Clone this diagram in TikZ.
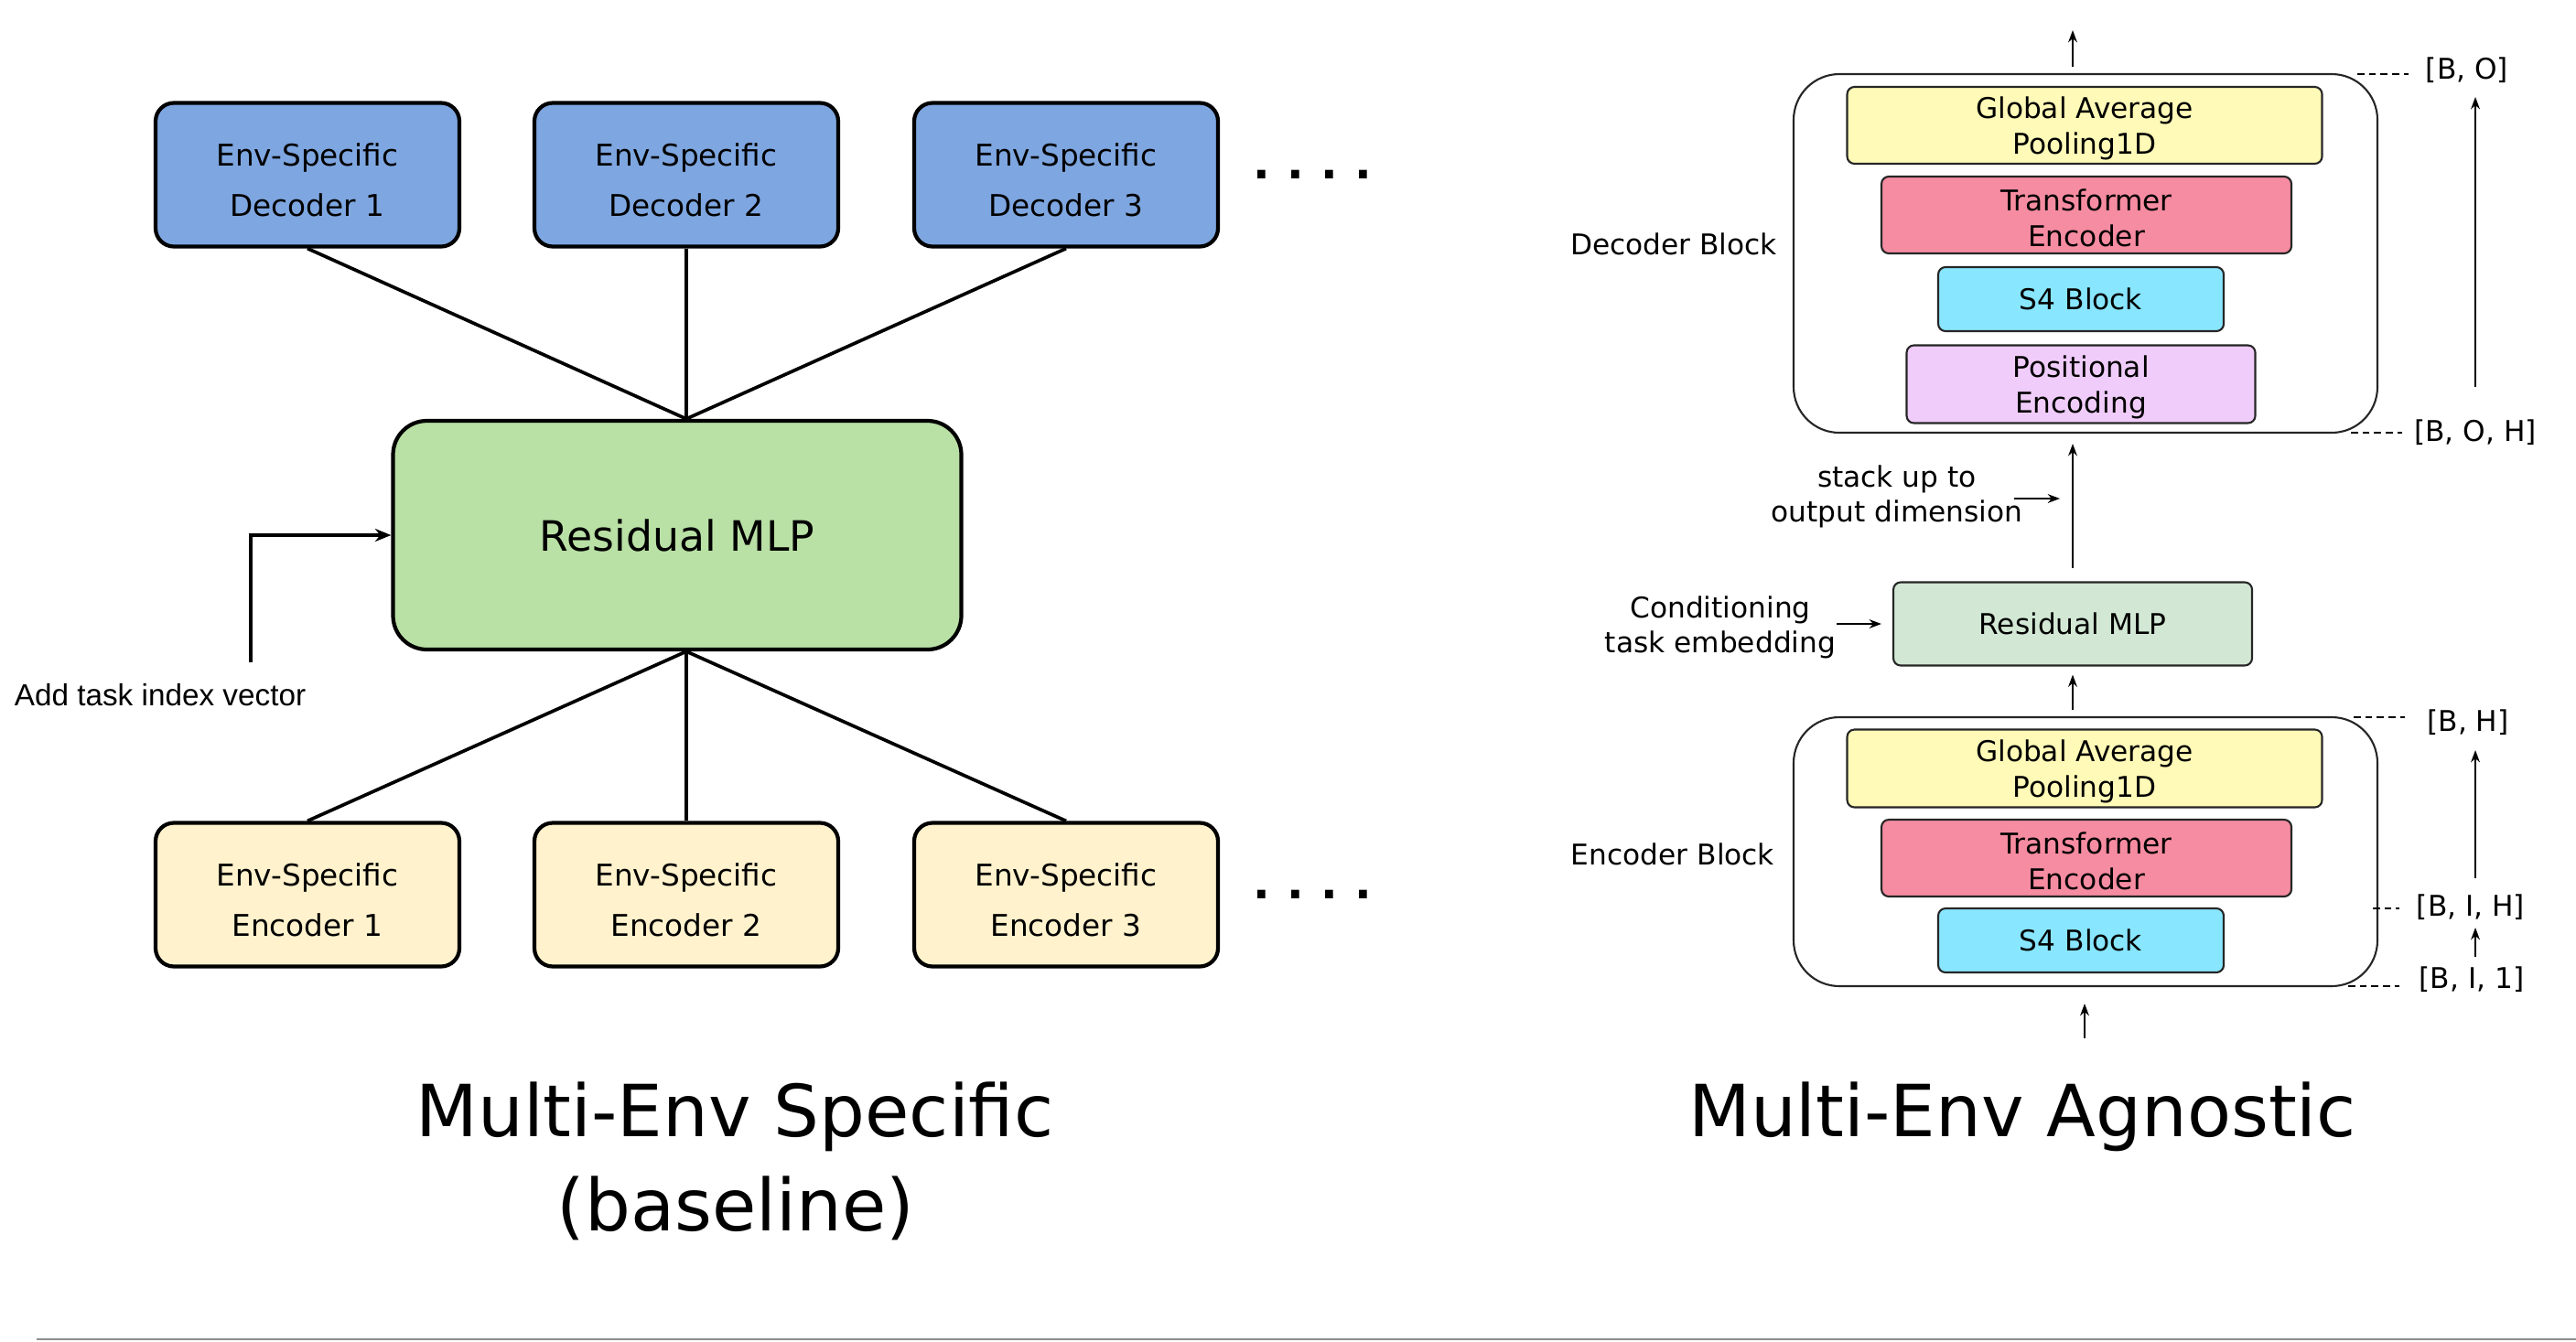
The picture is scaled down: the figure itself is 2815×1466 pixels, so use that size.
\documentclass[tikz,border=0pt]{standalone}
\usepackage{fontspec}
\setmainfont{DejaVu Sans}
\newfontfamily\arialfont{Liberation Sans}
\usetikzlibrary{arrows.meta,calc}
\newlength\pxu
\setlength\pxu{0.01cm}
\newcommand\lboxup{\rule{0pt}{10.6pt}}
\newcommand\rboxup{\rule{0pt}{8.7pt}}
\definecolor{decblue}{RGB}{126,166,224}
\definecolor{resgreen}{RGB}{185,224,165}
\definecolor{encyellow}{RGB}{255,242,204}
\definecolor{ryellow}{RGB}{255,250,183}
\definecolor{rpink}{RGB}{246,140,161}
\definecolor{rcyan}{RGB}{136,230,255}
\definecolor{rviolet}{RGB}{240,204,250}
\definecolor{rgreen}{RGB}{210,232,212}
\definecolor{rulegray}{RGB}{140,140,140}
\begin{document}
\begin{tikzpicture}[x=0.01cm,y=-0.01cm,
  lbox/.style={draw=black, line width=1.2pt, rounded corners=20\pxu, inner sep=0pt, align=center,
    font=\fontsize{9.3}{15.65}\selectfont, minimum width=332\pxu, minimum height=157\pxu},
  decbox/.style={lbox, fill=decblue},
  encbox/.style={lbox, fill=encyellow},
  resbox/.style={draw=black, line width=1.2pt, rounded corners=37\pxu, inner sep=0pt,
    fill=resgreen, font=\fontsize{13}{15}\selectfont, minimum width=621\pxu, minimum height=250\pxu},
  fan/.style={line width=1.05pt},
  tskarr/.style={line width=1pt, -{Stealth[length=5pt,width=4pt]}},
  rbox/.style={draw=black!85, line width=0.6pt, rounded corners=8\pxu, inner sep=0pt, align=center,
    font=\fontsize{8.88}{11}\selectfont},
  outerbox/.style={draw=black!85, fill=white, line width=0.6pt, rounded corners=50\pxu,
    minimum width=638\pxu, inner sep=0pt},
  lbl/.style={font=\fontsize{8.88}{10.8}\selectfont, align=center, inner sep=0pt},
  arr/.style={line width=0.45pt, -{Stealth[length=3.8pt,width=2.8pt]}},
  leader/.style={line width=0.6pt, dash pattern=on 2.2pt off 1.4pt},
  ttl/.style={font=\fontsize{22.34}{29.3}\selectfont, anchor=base, inner sep=0pt},
  dots/.style={font=\fontsize{14}{14}\selectfont\bfseries, inner sep=0pt}
]
\useasboundingbox (0,0) rectangle (2815,1466);

% ---------------- left: Multi-Env Specific ----------------
\node[decbox] (d1) at (336,191) {\lboxup Env-Specific\\Decoder 1};
\node[decbox] (d2) at (750,191) {\lboxup Env-Specific\\Decoder 2};
\node[decbox] (d3) at (1165,191) {\lboxup Env-Specific\\Decoder 3};
\node[dots] (dotsT) at (1434,191) {.\hspace{5.2pt}.\hspace{5.2pt}.\hspace{5.2pt}.};

\node[resbox] (res) at (740,585) {Residual MLP};

\node[encbox] (e1) at (336,978) {\lboxup Env-Specific\\Encoder 1};
\node[encbox] (e2) at (750,978) {\lboxup Env-Specific\\Encoder 2};
\node[encbox] (e3) at (1165,978) {\lboxup Env-Specific\\Encoder 3};
\node[dots] (dotsB) at (1434,978) {.\hspace{5.2pt}.\hspace{5.2pt}.\hspace{5.2pt}.};

\coordinate (restop) at (res.north -| d2.south);
\coordinate (resbot) at (res.south -| e2.north);
\draw[fan] (d1.south) -- (restop);
\draw[fan] (d2.south) -- (restop);
\draw[fan] (d3.south) -- (restop);
\draw[fan] (resbot) -- (e1.north);
\draw[fan] (resbot) -- (e2.north);
\draw[fan] (resbot) -- (e3.north);

\node[font=\arialfont\fontsize{9.47}{11}\selectfont, inner sep=0pt] (task) at (175,760) {Add task index vector};
\coordinate (tskstart) at (274,724);
\draw[tskarr] (tskstart) |- (res.west);

\node[ttl] (t1a) at (803,1242) {Multi-Env Specific};
\node[ttl] (t1b) at (804,1345) {(baseline)};

% ---------------- right: Multi-Env Agnostic ----------------
\node[outerbox, minimum height=392\pxu] (decblk) at (2279,277) {};
\node[outerbox, minimum height=294\pxu] (encblk) at (2279,931) {};

\node[rbox, fill=ryellow, minimum width=519\pxu, minimum height=84\pxu] (dgap) at (2278,137) {\rboxup Global Average\\Pooling1D};
\node[rbox, fill=rpink, minimum width=448\pxu, minimum height=84\pxu] (dtr) at (2280,235) {\rboxup Transformer\\Encoder};
\node[rbox, fill=rcyan, minimum width=312\pxu, minimum height=70\pxu] (ds4) at (2274,327) {S4 Block};
\node[rbox, fill=rviolet, minimum width=381\pxu, minimum height=85\pxu] (dpe) at (2274,420) {\rboxup Positional\\Encoding};

\node[rbox, fill=ryellow, minimum width=519\pxu, minimum height=85\pxu] (egap) at (2278,840) {\rboxup Global Average\\Pooling1D};
\node[rbox, fill=rpink, minimum width=448\pxu, minimum height=84\pxu] (etr) at (2280,938) {\rboxup Transformer\\Encoder};
\node[rbox, fill=rcyan, minimum width=312\pxu, minimum height=70\pxu] (es4) at (2274,1028) {S4 Block};

\node[rbox, fill=rgreen, minimum width=392\pxu, minimum height=91\pxu] (rmlp) at (2265,682) {Residual MLP};

\node[lbl] (decl) at (1829,267) {Decoder Block};
\node[lbl] (encl) at (1828,934) {Encoder Block};
\node[lbl] (stk) at (2073,543) {stack up to\\output dimension};
\node[lbl] (cond) at (1880,686) {Conditioning\\task embedding};

\node[lbl] (BO) at (2696,77) {[B, O]};
\node[lbl] (BOH) at (2705,473) {[B, O, H]};
\node[lbl] (BH) at (2697,790) {[B, H]};
\node[lbl] (BIH) at (2700,992) {[B, I, H]};
\node[lbl] (BI1) at (2701,1071) {[B, I, 1]};

% main vertical flow
\coordinate (outtip) at (2265,33);
\draw[arr, shorten <=7\pxu] (rmlp.north |- decblk.north) -- (outtip);
\draw[arr, shorten <=14\pxu, shorten >=11\pxu] (rmlp.north) -- (rmlp.north |- decblk.south);
\draw[arr, shorten <=7\pxu, shorten >=9\pxu] (rmlp.south |- encblk.north) -- (rmlp.south);
\coordinate (intail) at (2278,1135);
\draw[arr, shorten >=18\pxu] (intail) -- (intail |- encblk.south);

% side arrows
\draw[arr, shorten >=12\pxu] (cond.east |- rmlp.west) -- (rmlp.west);
\coordinate (stkA) at (2201,545);
\coordinate (stkB) at (2251,545);
\draw[arr] (stkA) -- (stkB);

\coordinate (sa1) at (2705,423);
\coordinate (sa2) at (2705,106);
\draw[arr] (sa1) -- (sa2);
\coordinate (sb1) at (2705,960);
\coordinate (sb2) at (2705,820);
\draw[arr] (sb1) -- (sb2);
\coordinate (sc1) at (2705,1046);
\coordinate (sc2) at (2705,1014);
\draw[arr] (sc1) -- (sc2);

% leader lines
\coordinate (la1) at (2576,81);   \coordinate (la2) at (2632,81);
\coordinate (lb1) at (2569,473);  \coordinate (lb2) at (2625,473);
\coordinate (lc1) at (2572,784);  \coordinate (lc2) at (2628,784);
\coordinate (ld1) at (2593,993);  \coordinate (ld2) at (2622,993);
\coordinate (le1) at (2566,1078); \coordinate (le2) at (2622,1078);
\draw[leader] (la1) -- (la2);
\draw[leader] (lb1) -- (lb2);
\draw[leader] (lc1) -- (lc2);
\draw[leader] (ld1) -- (ld2);
\draw[leader] (le1) -- (le2);

\node[ttl] (t2) at (2210,1242) {Multi-Env Agnostic};

% bottom rule
\coordinate (ruleA) at (40,1464);
\coordinate (ruleB) at (2815,1464);
\draw[rulegray, line width=2\pxu] (ruleA) -- (ruleB);
\end{tikzpicture}
\end{document}
